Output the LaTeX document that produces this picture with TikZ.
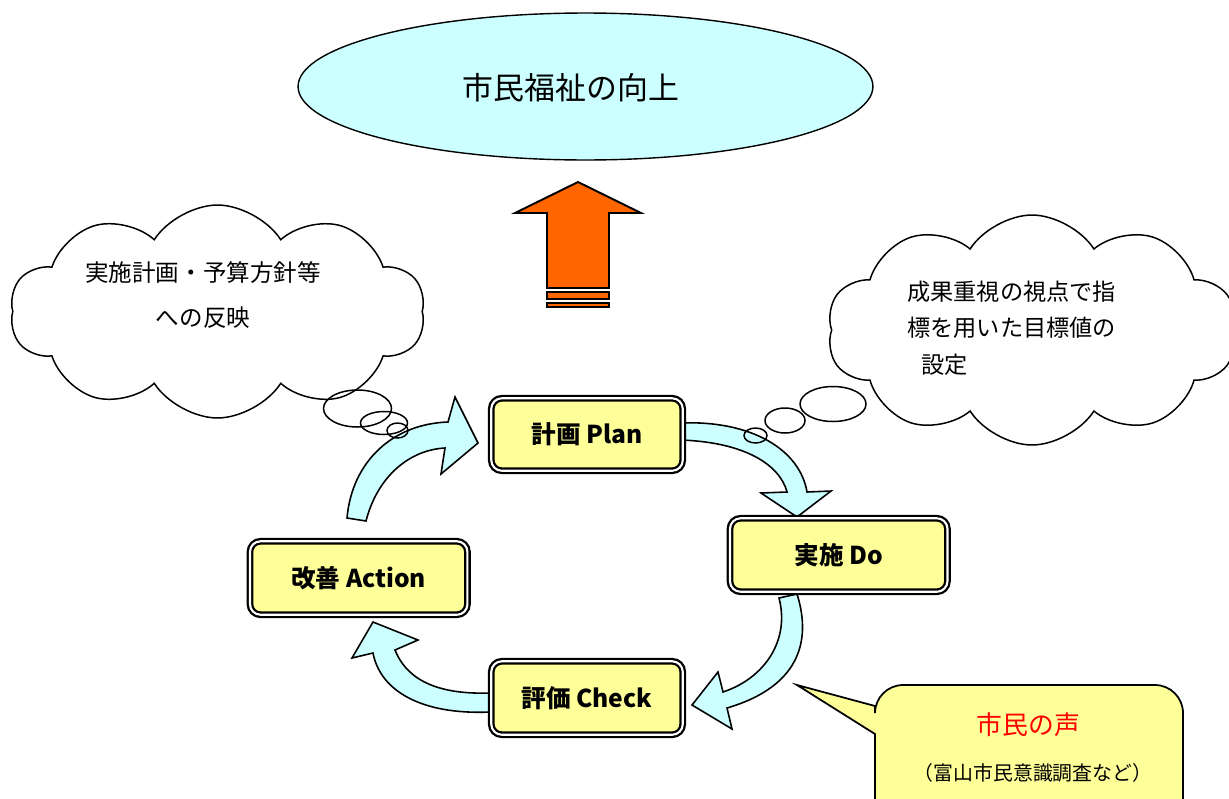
\documentclass[tikz,border=0pt]{standalone}
\usepackage{fontspec}
\setmainfont{Noto Sans CJK JP}
\usetikzlibrary{shapes.symbols,shapes.geometric}
\definecolor{lcyan}{HTML}{CCFFFF}
\definecolor{lyel}{HTML}{FFFF99}
\definecolor{orng}{HTML}{FF6600}
\begin{document}
\begin{tikzpicture}[x=0.02cm,y=-0.02cm,
  stagebox/.style={draw=black, double=white, double distance=1.2pt, line width=1.3pt,
    fill=lyel, rounded corners=6pt, inner sep=0pt, font=\bfseries\fontsize{14}{16}\selectfont},
  cloudshape/.style={cloud, draw=black, fill=white, line width=0.85pt, cloud puffs=10,
    cloud puff arc=115, cloud ignores aspect, inner sep=0pt},
  bubble/.style={draw=black, line width=0.85pt},
  cyanarrow/.style={draw=black, fill=lcyan, line width=0.9pt, line join=miter},
  plaintext/.style={inner sep=0pt, font=\fontsize{13.2}{20.7}\selectfont}]
\useasboundingbox (0,0) rectangle (1229,798);

% goal ellipse
\node[ellipse, draw=black, fill=lcyan, line width=0.8pt, minimum width=11.5cm, minimum height=2.94cm, inner sep=0pt] (goal) at (585.5,86.5) {};
\node[inner sep=0pt, font=\fontsize{17.6}{20}\selectfont] (goaltext) at (571,88) {市民福祉の向上};

% orange up arrow
\draw[draw=black, fill=orng, line width=1.1pt, line join=miter] (578,182) -- (641,213) -- (609,213) -- (609,288) -- (547,288) -- (547,213) -- (515,213) -- cycle;
\draw[draw=black, fill=orng, line width=1pt] (547,292) rectangle (609,299);
\draw[draw=black, fill=orng, line width=1pt] (547,303) rectangle (609,307);

% clouds
\node[cloudshape, minimum width=8.3cm, minimum height=4.26cm] (lcloud) at (217.5,311.5) {};
\node[plaintext, align=center, font=\fontsize{13.4}{26}\selectfont] (ltext) at (203,295) {実施計画・予算方針等\\への反映};
\node[cloudshape, minimum width=8.2cm, minimum height=4.6cm] (rcloud) at (1032,330) {};
\node[plaintext, align=left, anchor=west] (rtext) at (907,328) {成果重視の視点で指\\標を用いた目標値の\\\hspace*{0.6em}設定};

% curved cycle arrows
\draw[cyanarrow] (347,518) .. controls (352,462) and (392,424) .. (448,422) -- (455,397) -- (478,443) -- (441,474) -- (445,448) .. controls (408,450) and (377,478) .. (366,521) -- cycle;
\draw[cyanarrow] (680,423) .. controls (752,420) and (800,450) .. (807,492) -- (831,491) -- (797,517) -- (761,493) -- (787,492) .. controls (780,465) and (745,442) .. (680,440) -- cycle;
\draw[cyanarrow] (797,594) .. controls (810,635) and (805,685) .. (727,708) -- (732,729) -- (692,705) -- (718,672) -- (723,692) .. controls (765,678) and (790,640) .. (779,598) -- cycle;
\draw[cyanarrow] (490,712) .. controls (420,715) and (380,690) .. (373,653) -- (352,658) -- (373,622) -- (418,640) -- (395,650) .. controls (405,675) and (430,695) .. (490,693) -- cycle;

% stage boxes
\node[stagebox, minimum width=3.83cm, minimum height=1.45cm] (plan) at (587,434.5) {計画 Plan};
\node[stagebox, minimum width=4.35cm, minimum height=1.47cm] (do) at (838.7,555) {実施 Do};
\node[stagebox, minimum width=3.83cm, minimum height=1.47cm] (check) at (587,698) {評価 Check};
\node[stagebox, minimum width=4.35cm, minimum height=1.47cm] (act) at (358.7,578) {改善 Action};

% thought bubbles
\draw[bubble] (357.5,408.5) ellipse [x radius=34, y radius=18.5];
\draw[bubble] (384,423) ellipse [x radius=23.5, y radius=11.5];
\draw[bubble] (397.5,430.5) ellipse [x radius=10.5, y radius=7.5];
\draw[bubble] (833,404) ellipse [x radius=33, y radius=17.5];
\draw[bubble] (785,420.5) ellipse [x radius=20, y radius=12.5];
\draw[bubble] (755.5,435.5) ellipse [x radius=11.5, y radius=7.5];

% callout
\coordinate (tailtip) at (797,685);
\draw[draw=black, fill=lyel, line width=1pt, line join=miter] (875,706) -- (tailtip) -- (875,734) -- (875,830) -- (1183,830) [rounded corners=16pt] -- (1183,685) -- (875,685) -- (875,706);
\node[inner sep=0pt, text=red, font=\fontsize{14.7}{16}\selectfont] (voice) at (1028.5,725) {市民の声};
\node[inner sep=0pt, font=\fontsize{11.3}{12}\selectfont] (survey) at (1033,773) {（富山市民意識調査など）};
\end{tikzpicture}
\end{document}
